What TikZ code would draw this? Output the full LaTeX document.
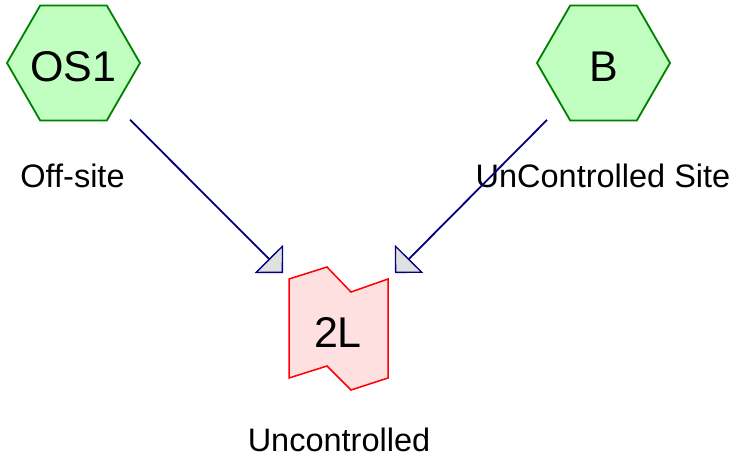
\documentclass[tikz,border=0pt]{standalone}
\usepackage{fontspec}
\setmainfont{Liberation Sans}
\usetikzlibrary{shapes.geometric,arrows.meta}
\definecolor{hexfill}{HTML}{C0FFC0}
\definecolor{hexdraw}{HTML}{008000}
\definecolor{locfill}{HTML}{FFE0E0}
\definecolor{locdraw}{HTML}{FF0000}
\definecolor{conncol}{HTML}{000080}
\definecolor{tipfill}{HTML}{E0E0E0}
\tikzset{
  site/.style={regular polygon, regular polygon sides=6, minimum size=133pt,
    inner sep=0pt, draw=hexdraw, fill=hexfill, line width=1.8pt,
    font=\fontsize{43}{50}\selectfont, text height=37pt, text depth=0pt},
  loc/.style={draw=locdraw, fill=locfill, line width=1.5pt, line join=miter},
  loctext/.style={anchor=base, inner sep=0pt, font=\fontsize{43}{50}\selectfont},
  lbl/.style={anchor=base, inner sep=0pt, font=\fontsize{32.5}{39}\selectfont},
  conn/.style={draw=conncol, line width=1.8pt, shorten <=19.5pt,
    -{Triangle[length=20pt, width=40pt, fill=tipfill, line width=1.3pt]}}
}
\begin{document}
\begin{tikzpicture}[x=1pt, y=-1pt]
\useasboundingbox (0,0) rectangle (738,461);
\node[site] (OS1) at (73.5,63) {\makebox[0pt]{OS1}};
\node[site] (B) at (603.5,63) {\makebox[0pt]{B}};
\node[lbl] (offsite) at (72.5,187) {Off-site};
\node[lbl] (ucsite) at (603,187) {UnControlled Site};
\draw[loc] (289,279) -- (327,267) -- (351,292) -- (388,279) -- (388,378)
  -- (351,390) -- (327,366) -- (289,378) -- cycle;
\node[loctext] (L2) at (338,347) {2L};
\node[lbl] (unc) at (339,451) {Uncontrolled};
\coordinate (t1) at (283,273);
\coordinate (t2) at (395,273);
\draw[conn] (OS1) -- (t1);
\draw[conn] (B) -- (t2);
\end{tikzpicture}
\end{document}
